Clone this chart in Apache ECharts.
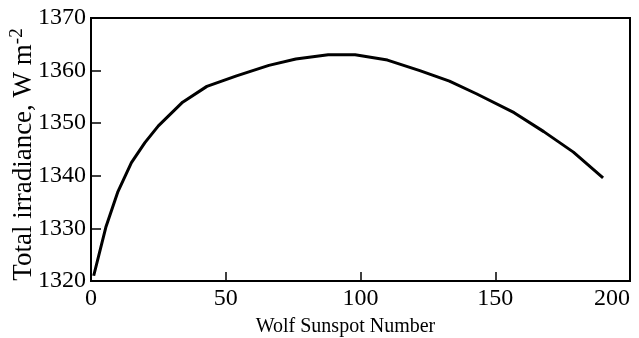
<!DOCTYPE html>
<html>
<head>
<meta charset="utf-8">
<script src="https://cdn.jsdelivr.net/npm/echarts@6/dist/echarts.min.js"></script>
<style>
  html, body { margin: 0; padding: 0; background: #fff; }
  #chart { width: 639px; height: 338px; }
</style>
</head>
<body>
<div id="chart"></div>
<script>
// Wolf sunspot number vs. total solar irradiance
const sunspotNumber = [1, 5.5, 10, 15, 20, 25, 34, 43, 54, 66, 76, 88, 98, 110, 122, 133, 143, 157, 168, 179, 190];
const irradiance = [1321, 1330.2, 1337, 1342.5, 1346.3, 1349.5, 1354, 1357, 1359, 1361, 1362.2, 1363, 1363, 1362, 1360, 1358, 1355.6, 1352, 1348.4, 1344.5, 1339.6];
const xTicks = { min: 0, max: 200, step: 50 };
const yTicks = { min: 1320, max: 1370, step: 10 };

const points = sunspotNumber.map((x, i) => [x, irradiance[i]]);
const font = '"Liberation Serif", "Times New Roman", serif';
const tickText = v => '{t|' + v + '}';
const tickRich = { t: { fontFamily: font, fontSize: 24, color: '#000' } };

const chart = echarts.init(document.getElementById('chart'));
chart.setOption({
  animation: false,
  textStyle: { fontFamily: font, color: '#000' },
  grid: {
    left: 91, right: 9, top: 18, bottom: 57,
    containLabel: false, outerBoundsMode: 'none',
    show: true, borderColor: '#000', borderWidth: 2, backgroundColor: 'transparent'
  },
  xAxis: {
    type: 'value',
    min: xTicks.min, max: xTicks.max, interval: xTicks.step,
    name: 'Wolf Sunspot Number',
    nameLocation: 'middle',
    nameGap: 36,
    nameMoveOverlap: false,
    nameTextStyle: { fontFamily: font, fontSize: 20, color: '#000', padding: [0, 30, 0, 0] },
    axisLine: { show: true, lineStyle: { color: '#000', width: 2 } },
    axisTick: { show: true, inside: true, length: 9, lineStyle: { color: '#000', width: 1.5 } },
    axisLabel: { fontFamily: font, fontSize: 24, color: '#000', margin: 6, alignMaxLabel: 'right', formatter: tickText, rich: tickRich },
    splitLine: { show: false }
  },
  yAxis: {
    type: 'value',
    min: yTicks.min, max: yTicks.max, interval: yTicks.step,
    name: '{m|Total irradiance, W m}{s|-2}',
    nameLocation: 'middle',
    nameGap: 52,
    nameMoveOverlap: false,
    nameTextStyle: {
      fontFamily: font, color: '#000', padding: [0, 10, 0, 0],
      rich: {
        m: { fontFamily: font, fontSize: 27, color: '#000' },
        s: { fontFamily: font, fontSize: 19, color: '#000', padding: [0, 0, 12, 0] }
      }
    },
    axisLine: { show: true, lineStyle: { color: '#000', width: 2 } },
    axisTick: { show: true, inside: true, length: 10, lineStyle: { color: '#000', width: 1.5 } },
    axisLabel: { fontFamily: font, fontSize: 24, color: '#000', margin: 5, formatter: tickText, rich: tickRich },
    splitLine: { show: false }
  },
  series: [{
    type: 'line',
    data: points,
    showSymbol: false,
    smooth: false,
    lineStyle: { color: '#000', width: 3 }
  }]
});
</script>
</body>
</html>
